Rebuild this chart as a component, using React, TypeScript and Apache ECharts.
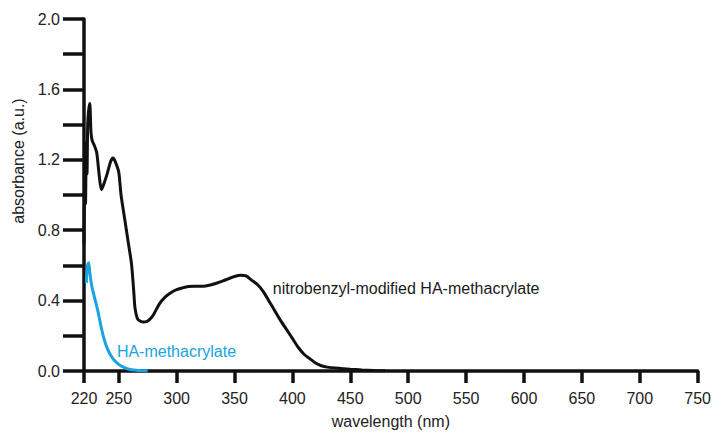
import React, { useEffect, useRef } from "react";
import * as echarts from "echarts";

const nbWavelength = [220, 220.7, 221.3, 222, 222.6, 223.2, 224, 225, 226, 227, 229, 231, 233, 235, 237, 240, 243, 245, 247, 250, 252, 255, 258, 261, 263, 264, 266, 268, 271, 274, 277, 280, 285, 290, 295, 300, 305, 310, 315, 320, 325, 330, 335, 340, 345, 350, 355, 360, 365, 370, 375, 380, 385, 390, 395, 400, 405, 410, 415, 420, 425, 430, 440, 450, 460, 470, 480];
const nbAbsorbance = [0.72, 1.15, 0.95, 1.3, 1.12, 1.4, 1.48, 1.52, 1.36, 1.31, 1.28, 1.24, 1.12, 1.03, 1.06, 1.12, 1.19, 1.21, 1.19, 1.13, 1.0, 0.87, 0.74, 0.61, 0.45, 0.36, 0.3, 0.285, 0.278, 0.28, 0.295, 0.32, 0.38, 0.42, 0.445, 0.462, 0.472, 0.48, 0.482, 0.482, 0.483, 0.49, 0.5, 0.512, 0.525, 0.537, 0.544, 0.54, 0.515, 0.49, 0.45, 0.395, 0.34, 0.285, 0.235, 0.185, 0.135, 0.095, 0.07, 0.045, 0.03, 0.022, 0.015, 0.01, 0.006, 0.003, 0.001];

const haWavelength = [222, 223, 224, 225, 226.5, 229, 232, 234.5, 237, 240, 243, 247, 252, 258, 265, 275];
const haAbsorbance = [0.5, 0.6, 0.615, 0.56, 0.49, 0.42, 0.34, 0.26, 0.19, 0.13, 0.09, 0.055, 0.028, 0.011, 0.004, 0.001];

const xTickValues = [220, 250, 300, 350, 400, 450, 500, 550, 600, 650, 700, 750];

const nbLabel = "nitrobenzyl-modified HA-methacrylate";
const haLabel = "HA-methacrylate";
const nbLabelAt = [383, 0.469];
const haLabelAt = [248.4, 0.113];

const BLACK = "#111111";
const BLUE = "#1aa3e0";
const FONT = "Liberation Sans, Arial, sans-serif";

export default function App() {
  const ref = useRef<HTMLDivElement>(null);
  useEffect(() => {
    if (!ref.current) return;
    const chart = echarts.init(ref.current, undefined, { renderer: "svg" });
    const zip = (xs: number[], ys: number[]) => xs.map((x, i) => [x, ys[i]]);
    chart.setOption({
      animation: false,
      backgroundColor: "#ffffff",
      textStyle: { fontFamily: FONT },
      grid: { left: 84, right: 15, top: 19, bottom: 62, containLabel: false },
      xAxis: {
        type: "value",
        min: 220,
        max: 750,
        name: "wavelength (nm)",
        nameLocation: "middle",
        nameGap: 42,
        nameTextStyle: { fontSize: 16, color: "#222", fontFamily: FONT },
        axisLine: { show: true, lineStyle: { color: BLACK, width: 3.5 } },
        axisTick: { show: true, length: 12, lineStyle: { color: BLACK, width: 3.5 }, customValues: xTickValues },
        axisLabel: { fontSize: 16, color: "#222", margin: 19, fontFamily: FONT, customValues: xTickValues },
        splitLine: { show: false },
      },
      yAxis: {
        type: "value",
        min: 0,
        max: 2,
        interval: 0.2,
        name: "absorbance (a.u.)",
        nameLocation: "middle",
        nameGap: 54,
        nameTextStyle: { fontSize: 16, color: "#222", fontFamily: FONT, padding: [0, 0, 0, 68] },
        axisLine: { show: true, lineStyle: { color: BLACK, width: 3.5 } },
        axisTick: { show: true, length: 21, lineStyle: { color: BLACK, width: 3.5 } },
        axisLabel: {
          fontSize: 16,
          color: "#222",
          margin: 24,
          fontFamily: FONT,
          formatter: (v: number) => (Math.round(v * 10) % 4 === 0 ? v.toFixed(1) : ""),
        },
        splitLine: { show: false },
      },
      series: [
        {
          type: "line",
          data: zip(nbWavelength, nbAbsorbance),
          showSymbol: false,
          smooth: 0.25,
          lineStyle: { color: BLACK, width: 3 },
          itemStyle: { color: BLACK },
          z: 3,
          markPoint: {
            symbol: "circle",
            symbolSize: 0,
            data: [{ coord: nbLabelAt }],
            label: {
              show: true,
              position: "right",
              distance: 0,
              formatter: nbLabel,
              fontSize: 16,
              color: "#1a1a1a",
              fontFamily: FONT,
            },
          },
        },
        {
          type: "line",
          data: zip(haWavelength, haAbsorbance),
          showSymbol: false,
          smooth: 0.3,
          lineStyle: { color: BLUE, width: 3 },
          itemStyle: { color: BLUE },
          z: 2,
          markPoint: {
            symbol: "circle",
            symbolSize: 0,
            data: [{ coord: haLabelAt }],
            label: {
              show: true,
              position: "right",
              distance: 0,
              formatter: haLabel,
              fontSize: 16,
              color: BLUE,
              fontFamily: FONT,
            },
          },
        },
      ],
    });
    return () => chart.dispose();
  }, []);
  return <div ref={ref} style={{ position: "fixed", left: 0, top: 0, width: 714, height: 434 }} />;
}
